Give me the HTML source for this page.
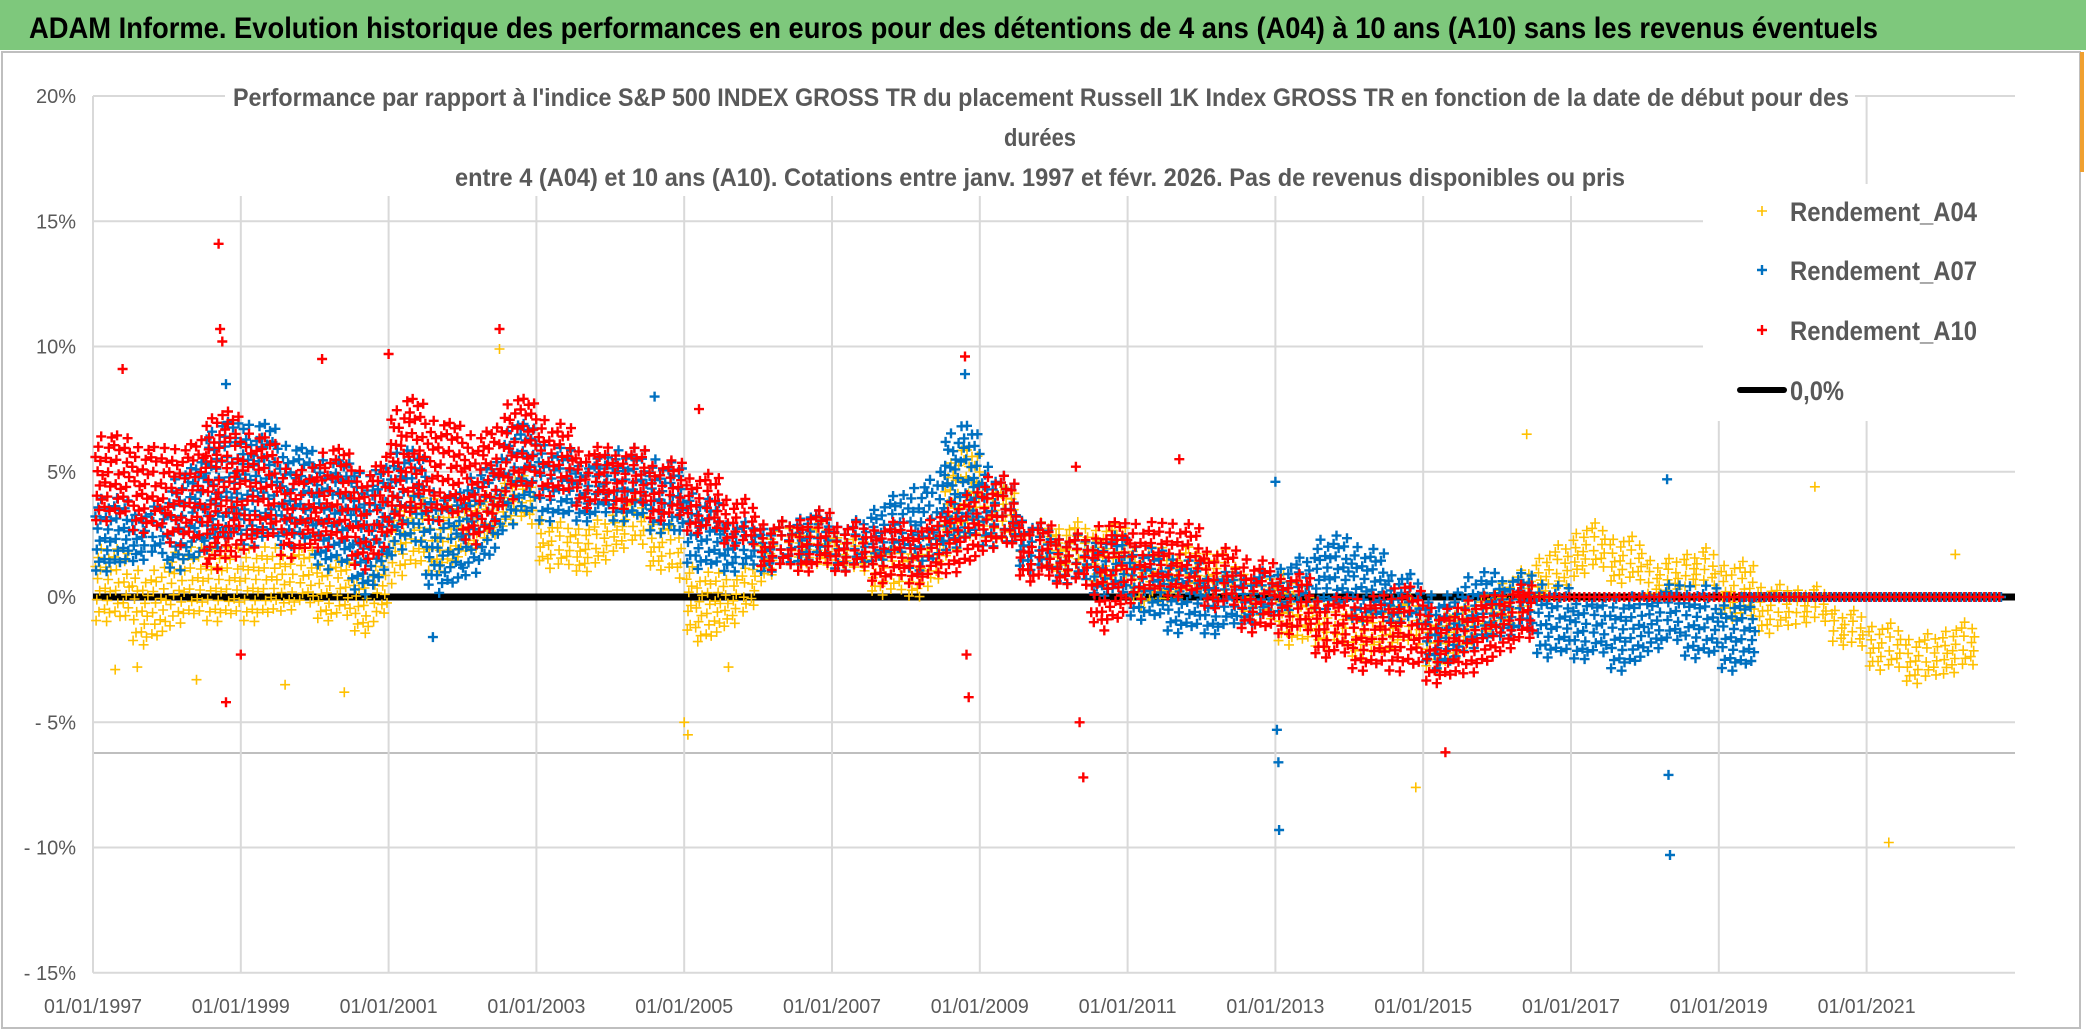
<!DOCTYPE html>
<html><head><meta charset="utf-8">
<style>
html,body{margin:0;padding:0;background:#fff;}
svg{display:block;font-family:"Liberation Sans Narrow","Liberation Sans",sans-serif;}
</style></head>
<body>
<svg id="chart" width="2086" height="1031" viewBox="0 0 2086 1031" xmlns="http://www.w3.org/2000/svg">
<rect x="0" y="0" width="2086" height="1031" fill="#fff"/>
<rect x="2" y="52" width="2078" height="976" fill="none" stroke="#bfbfbf" stroke-width="2"/>
<rect x="0" y="0" width="2086" height="50" fill="#7ec87c"/>
<text x="29" y="38" font-size="30" font-weight="bold" fill="#000" textLength="1849" lengthAdjust="spacingAndGlyphs">ADAM Informe. Evolution historique des performances en euros pour des détentions de 4 ans (A04) à 10 ans (A10) sans les revenus éventuels</text>
<rect x="2080" y="52" width="4" height="120" fill="#f0a030"/>
<g id="grid"></g>
<g id="yt"></g>
<g id="xt"></g>
<line x1="93" y1="597" x2="2015" y2="597" stroke="#000" stroke-width="7"/>
<g id="marks"></g>
<rect x="225" y="84" width="1630" height="112" fill="#fff"/>
<g fill="#595959" font-size="25" font-weight="bold">
<text x="233" y="106" textLength="1616" lengthAdjust="spacingAndGlyphs">Performance par rapport à l'indice S&amp;P 500 INDEX GROSS TR  du placement Russell 1K Index GROSS TR en fonction de la date de début pour des</text>
<text x="1040" y="146" text-anchor="middle" textLength="72" lengthAdjust="spacingAndGlyphs">durées</text>
<text x="455" y="186" textLength="1170" lengthAdjust="spacingAndGlyphs">entre 4 (A04) et 10 ans (A10). Cotations entre janv. 1997 et févr. 2026. Pas de revenus disponibles ou pris</text>
</g>
<rect x="1703" y="184" width="312" height="237" fill="#fff"/>
<g font-size="27" fill="#595959" font-weight="bold">
<g><path d="M1757 211h10M1762 206v10" stroke="#ffc000" stroke-width="1.6"/><text x="1790" y="221" textLength="187" lengthAdjust="spacingAndGlyphs">Rendement_A04</text></g>
<g><path d="M1757 270h10M1762 265v10" stroke="#0070c0" stroke-width="2.4"/><text x="1790" y="280" textLength="187" lengthAdjust="spacingAndGlyphs">Rendement_A07</text></g>
<g><path d="M1757 330h10M1762 325v10" stroke="#ff0000" stroke-width="2.4"/><text x="1790" y="340" textLength="187" lengthAdjust="spacingAndGlyphs">Rendement_A10</text></g>
<g><line x1="1740" y1="390" x2="1784" y2="390" stroke="#000" stroke-width="6" stroke-linecap="round"/><text x="1790" y="400" textLength="54" lengthAdjust="spacingAndGlyphs">0,0%</text></g>
</g>
</svg>
<script>
// ---- data (half-year periods: start year, low %, high %) ----
const yTicks = [20,15,10,5,0,-5,-10,-15];
const yTickLabels = ["20%","15%","10%","5%","0%","- 5%","- 10%","- 15%"];
const xTickYears = [1997,1999,2001,2003,2005,2007,2009,2011,2013,2015,2017,2019,2021];
const xTickLabels = ["01/01/1997","01/01/1999","01/01/2001","01/01/2003","01/01/2005","01/01/2007","01/01/2009","01/01/2011","01/01/2013","01/01/2015","01/01/2017","01/01/2019","01/01/2021"];

const a04Start = [1997,1997.5,1998,1998.5,1999,1999.5,2000,2000.5,2001,2001.5,2002,2002.5,2003,2003.5,2004,2004.5,2005,2005.5,2006,2006.5,2007,2007.5,2008,2008.5,2009,2009.5,2010,2010.5,2011,2011.5,2012,2012.5,2013,2013.5,2014,2014.5,2015,2015.5,2016,2016.5,2017,2017.5,2018,2018.5,2019,2019.5,2020,2020.5,2021,2021.5,2022];
const a04Low  = [-1,-2,-1,-1,-1,-0.5,-1,-1.5,1,1,2,3,1,1,2,1,-2,-1,1,1,1,0,0,2,2,1,1,0.5,-0.5,0,0,-1,-2,-2,-2.5,-2,-3,-2,-1,0,1,0.5,0,0.5,-1,-1.5,-1,-2,-3,-3.5,-3];
const a04High = [2,1,2,2,2,2,1.5,1,4,4,4,5,3,3,4,3,1,1,3,3,2.5,2,2,6,4.5,3,3,3,2,2,2,1,1,0,-0.5,0,-0.5,0,1,2,3,2.5,1.5,2,1.5,0.5,0.5,-0.5,-1,-1.5,-1];
const a04OutT = [1997.3,1997.6,1998.4,1999.6,2000.4,2002.5,2005.0,2005.05,2005.6,2014.9,2016.4,2020.3,2021.3,2022.2];
const a04OutV = [-2.9,-2.8,-3.3,-3.5,-3.8,9.9,-5.0,-5.5,-2.8,-7.6,6.5,4.4,-9.8,1.7];

const a07Start = [1997,1997.5,1998,1998.5,1999,1999.5,2000,2000.5,2001,2001.5,2002,2002.5,2003,2003.5,2004,2004.5,2005,2005.5,2006,2006.5,2007,2007.5,2008,2008.5,2009,2009.5,2010,2010.5,2011,2011.5,2012,2012.5,2013,2013.5,2014,2014.5,2015,2015.5,2016,2016.5,2017,2017.5,2018,2018.5,2019];
const a07Low  = [1,1.5,1,2,2,2,1,0,2,0,1,3,3,3,3,2.5,1,1,1,1.5,1,1.5,1,2,2,1,0.5,0,-1,-1.5,-1.5,-1,-0.5,-0.5,-1,-1,-3,-2,-1.5,-2.5,-2.5,-3,-2,-2.5,-3];
const a07High = [4,3.5,5,7,7,6,5.5,5,6,4,5,7,6,5.5,6,5.5,4,3,3,3.5,3,4,4.5,7,5,3,2.5,2.5,2,1.5,1,1,1.5,2.5,2,1,0,1,1,0.5,0,0,0.5,0.5,0];
const a07OutT = [1998.8,2001.6,2004.6,2008.8,2013.0,2013.02,2013.04,2013.05,2018.3,2018.32,2018.34];
const a07OutV = [8.5,-1.6,8.0,8.9,4.6,-5.3,-6.6,-9.3,4.7,-7.1,-10.3];
const a07ZeroT = [2019.3,2022.85];

const a10Start = [1997,1997.5,1998,1998.5,1999,1999.5,2000,2000.5,2001,2001.5,2002,2002.5,2003,2003.5,2004,2004.5,2005,2005.5,2006,2006.5,2007,2007.5,2008,2008.5,2009,2009.5,2010,2010.5,2011,2011.5,2012,2012.5,2013,2013.5,2014,2014.5,2015,2015.5,2016];
const a10Low  = [3,2.5,2,1,2,1.5,2,1,3,3,2,4,4,3.5,3.5,3,2.5,2,1,1,1,0.5,0.5,1,2,0.5,0.5,-1.5,0,0,-0.5,-1.5,-1.5,-2.5,-3,-3,-3.5,-3,-2];
const a10High = [6.5,6,6,7.5,6.5,5,6,5,8,7,6.5,8,7,6,6,5.5,5,4,3,3.5,3,3,3,4,5,3,2.5,3,3,3,2,1.5,1,0,0,0.5,-0.5,0,0.5];
const a10OutT = [1997.4,1998.7,1998.72,1998.75,1998.8,1999.0,2000.1,2001.0,2002.5,2005.2,2008.8,2008.82,2008.85,2010.3,2010.35,2010.4,2011.7,2015.3];
const a10OutV = [9.1,14.1,10.7,10.2,-4.2,-2.3,9.5,9.7,10.7,7.5,9.6,-2.3,-4.0,5.2,-5.0,-7.2,5.5,-6.2];
const a10ZeroT = [2016.3,2022.85];

// ---- axes ----
function xs(t){ return 93 + (t-1997)*73.9; }
function ys(v){ return 597 - v*25.05; }

const NS = "http://www.w3.org/2000/svg";
function mk(tag, attrs, parent){ const e=document.createElementNS(NS,tag); for(const k in attrs) e.setAttribute(k, attrs[k]); parent.appendChild(e); return e; }

const grid = document.getElementById('grid');
yTicks.forEach(function(v){
  const l = mk('line',{x1:93,x2:2015,y1:ys(v),y2:ys(v),stroke:'#d9d9d9','stroke-width':2},grid);
  
  
});
const extra = mk('line',{x1:93,x2:2015,y1:ys(-6.23),y2:ys(-6.23),stroke:'#bfbfbf','stroke-width':2},grid);


xTickYears.forEach(function(t){
  const l = mk('line',{x1:xs(t),x2:xs(t),y1:ys(20),y2:ys(-15),stroke:'#d9d9d9','stroke-width':2},grid);
  
  
});
const yt = document.getElementById('yt');
yTicks.forEach(function(v,i){
  const t = mk('text',{x:76,y:ys(v)+7,'text-anchor':'end','font-size':20,fill:'#595959'},yt);
  t.textContent = yTickLabels[i];
  
  
});
const xt = document.getElementById('xt');
xTickYears.forEach(function(y,i){
  const t = mk('text',{x:xs(y),y:1013,'text-anchor':'middle','font-size':20,fill:'#595959',textLength:98,lengthAdjust:'spacingAndGlyphs'},xt);
  t.textContent = xTickLabels[i];
  
  
});

const marks = document.getElementById('marks');
function series(name,color,sw,starts,lows,highs,outT,outV,zeroT){
  const g = mk('g',{stroke:color,'stroke-width':sw,fill:'none'},marks);
  
  
  let d = '';
  function plus(x,y){ d += 'M'+(x-5).toFixed(1)+' '+y.toFixed(1)+'h10M'+x.toFixed(1)+' '+(y-5).toFixed(1)+'v10'; }
  const n = starts.length;
  starts.forEach(function(s,i){
    // band edges blend toward neighbouring periods for smooth transitions
    const pl = i>0 ? (lows[i-1]+lows[i])/2 : lows[i];
    const ph = i>0 ? (highs[i-1]+highs[i])/2 : highs[i];
    const nl = i<n-1 ? (lows[i+1]+lows[i])/2 : lows[i];
    const nh = i<n-1 ? (highs[i+1]+highs[i])/2 : highs[i];
    const x0 = xs(s), w = xs(s+0.5)-x0;
    const hpx = (highs[i]-lows[i])*25.05 + 10;
    const cnt = Math.round(w*hpx/85);
    for(let k=0;k<cnt;k++){
      const u = (k*0.7548776662 + 0.31) % 1;
      const v = (k*0.5698402910 + 0.17) % 1;
      let lo, hi;
      if(u<0.5){ const f=u*2; lo=pl+(lows[i]-pl)*(0.5+f/2); hi=ph+(highs[i]-ph)*(0.5+f/2); }
      else { const f=(u-0.5)*2; lo=lows[i]+(nl-lows[i])*f/2; hi=highs[i]+(nh-highs[i])*f/2; }
      const val = lo + (hi-lo)*v;
      plus(x0+u*w, ys(val));
    }
  });
  outT.forEach(function(t,i){ plus(xs(t),ys(outV[i])); });
  if(zeroT){ for(let x=xs(zeroT[0]); x<=xs(zeroT[1]); x+=5){ plus(x,ys(0)); } }
  const p = mk('path',{d:d},g);
  
  
}
series('series-a04','#ffc000',1.6,a04Start,a04Low,a04High,a04OutT,a04OutV,null);
series('series-a07','#0070c0',2.4,a07Start,a07Low,a07High,a07OutT,a07OutV,a07ZeroT);
series('series-a10','#ff0000',2.4,a10Start,a10Low,a10High,a10OutT,a10OutV,a10ZeroT);
</script>
</body></html>
